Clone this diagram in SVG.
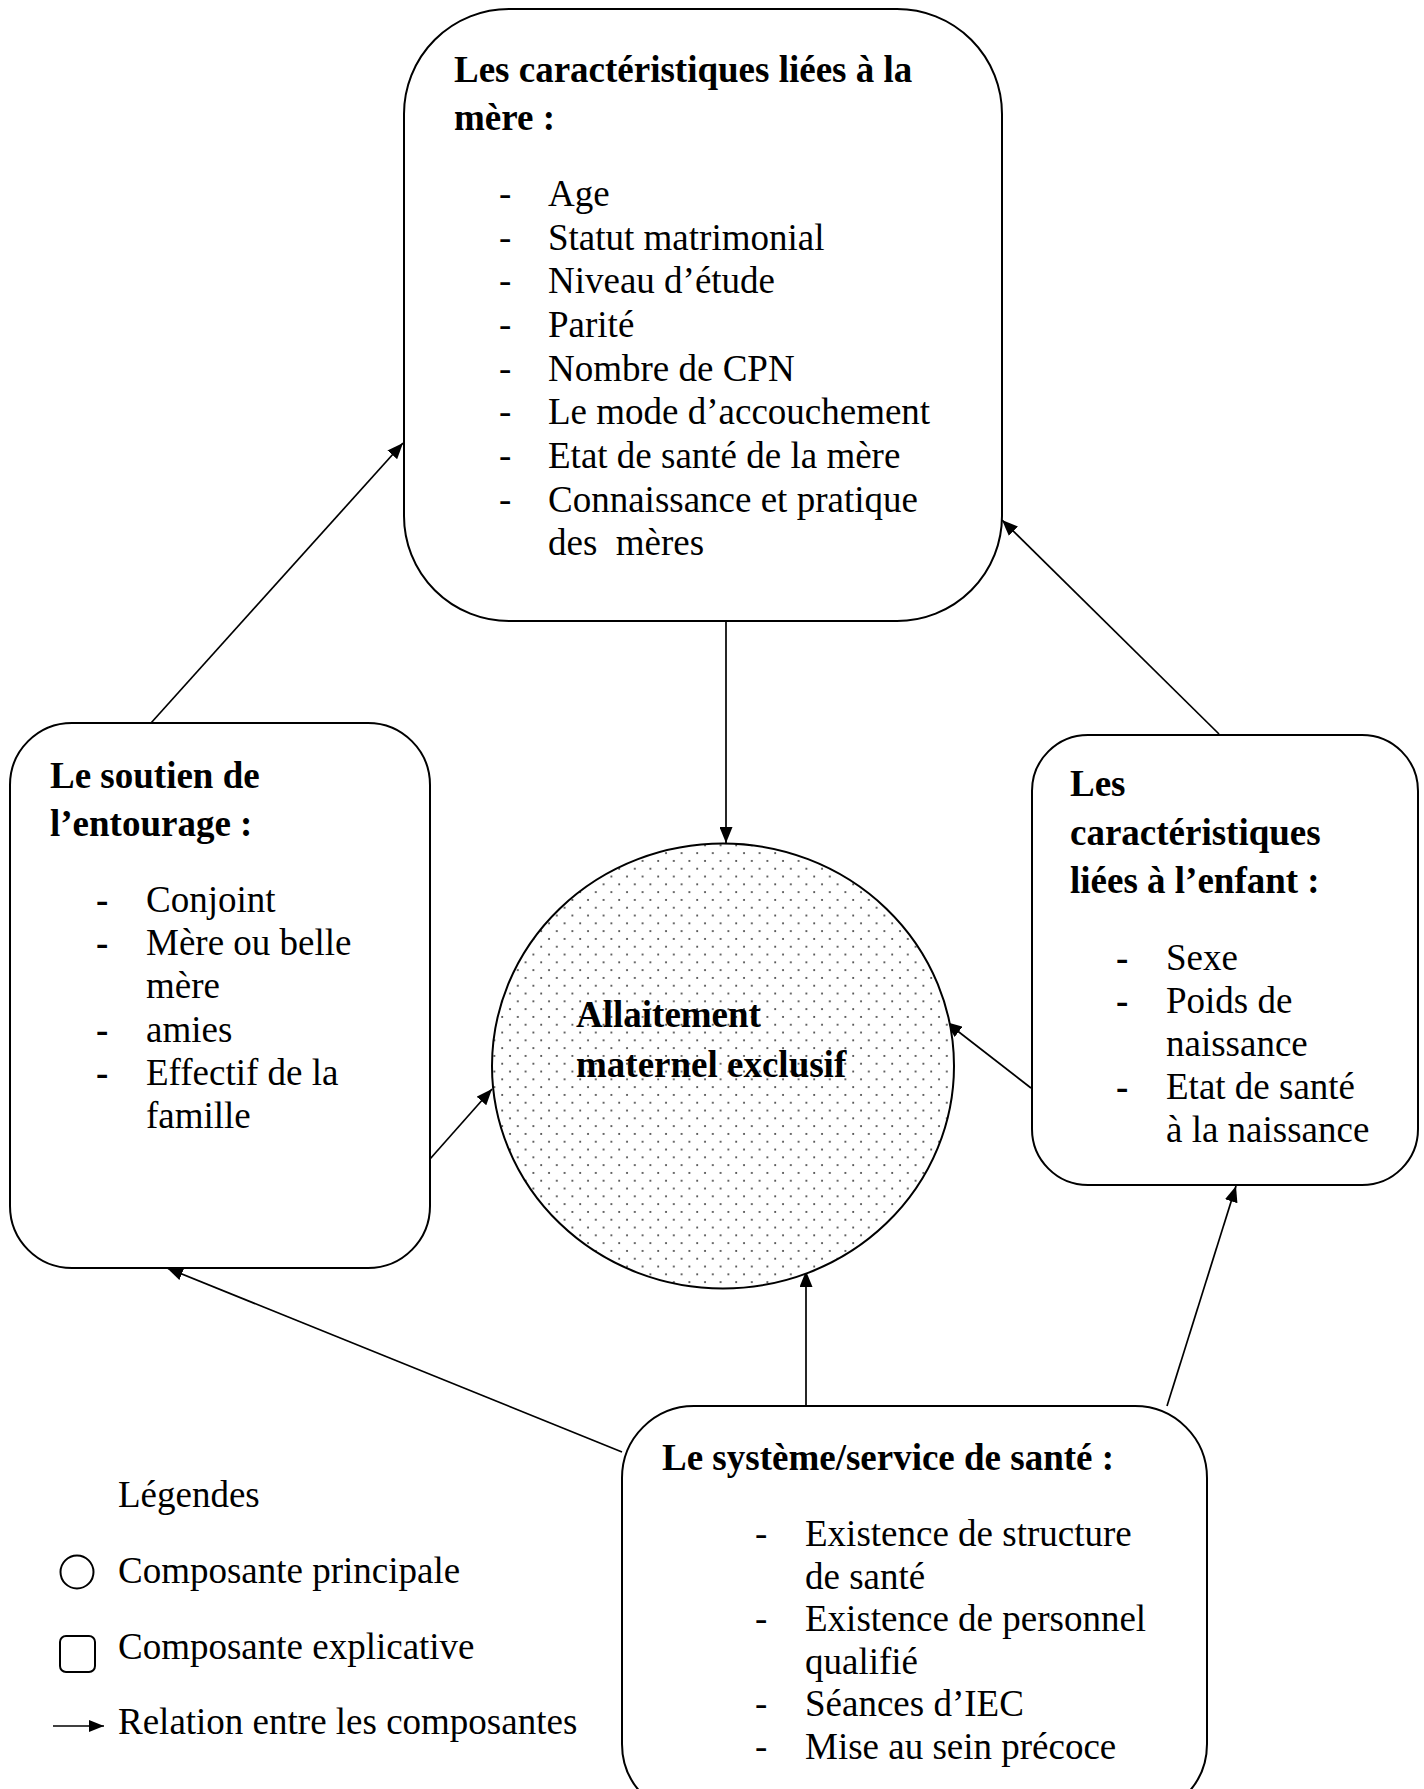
<svg xmlns="http://www.w3.org/2000/svg" width="1424" height="1789" viewBox="0 0 1424 1789">
<style>
  .box { fill: #fff; stroke: #000; stroke-width: 2; }
  .t { font-family: "Liberation Serif", "Times New Roman", serif; font-size: 37px; fill: #000; }
  .b { font-weight: bold; }
  .conn { stroke: #000; stroke-width: 1.7; fill: none; marker-end: url(#arr); }
</style>
<defs>
  <marker id="arr" markerUnits="userSpaceOnUse" markerWidth="17" markerHeight="13" refX="16" refY="6.5" orient="auto">
    <path d="M0,0 L16,6.5 L0,13 z" fill="#000"/>
  </marker>
  <pattern id="dots" patternUnits="userSpaceOnUse" width="15.6" height="15.6">
    <circle cx="3" cy="3" r="1" fill="#333"/>
    <circle cx="10.8" cy="10.8" r="1" fill="#333"/>
  </pattern>
</defs>
<rect width="1424" height="1789" fill="#fff"/>

<g id="connectors">
  <line class="conn" x1="726" y1="622" x2="726" y2="843"/>
  <line class="conn" x1="430" y1="1159" x2="492" y2="1089"/>
  <line class="conn" x1="1031" y1="1088" x2="946" y2="1022"/>
  <line class="conn" x1="806" y1="1406" x2="806" y2="1271"/>
  <line class="conn" x1="622" y1="1452" x2="167" y2="1268"/>
  <line class="conn" x1="1167" y1="1406" x2="1236" y2="1186"/>
  <line class="conn" x1="151" y1="723" x2="403" y2="443"/>
  <line class="conn" x1="1219" y1="734" x2="1002" y2="520"/>
</g>

<g id="node-mere">
  <rect class="box" x="404" y="9" width="598" height="612" rx="105" ry="105"/>
  <text class="t b" x="454" y="82">Les caractéristiques liées à la</text>
  <text class="t b" x="454" y="130">mère :</text>
  <g class="t">
    <text x="499" y="206">-</text><text x="548" y="206">Age</text>
    <text x="499" y="249.7">-</text><text x="548" y="249.7">Statut matrimonial</text>
    <text x="499" y="293.3">-</text><text x="548" y="293.3">Niveau d’étude</text>
    <text x="499" y="337">-</text><text x="548" y="337">Parité</text>
    <text x="499" y="380.6">-</text><text x="548" y="380.6">Nombre de CPN</text>
    <text x="499" y="424.3">-</text><text x="548" y="424.3">Le mode d’accouchement</text>
    <text x="499" y="468">-</text><text x="548" y="468">Etat de santé de la mère</text>
    <text x="499" y="511.6">-</text><text x="548" y="511.6">Connaissance et pratique</text>
    <text x="548" y="555.2" xml:space="preserve">des  mères</text>
  </g>
</g>

<g id="node-ame">
  <ellipse cx="723" cy="1066" rx="231" ry="222.5" fill="#fff"/>
  <ellipse cx="723" cy="1066" rx="231" ry="222.5" fill="url(#dots)" stroke="#000" stroke-width="2"/>
  <text class="t b" x="576" y="1027">Allaitement</text>
  <text class="t b" x="576" y="1077">maternel exclusif</text>
</g>

<g id="node-entourage">
  <rect class="box" x="10" y="723" width="420" height="545" rx="62" ry="62"/>
  <text class="t b" x="50" y="788">Le soutien de</text>
  <text class="t b" x="50" y="836">l’entourage :</text>
  <g class="t">
    <text class="b" x="96" y="912">-</text><text x="146" y="912">Conjoint</text>
    <text class="b" x="96" y="955.2">-</text><text x="146" y="955.2">Mère ou belle</text>
    <text x="146" y="998.4">mère</text>
    <text class="b" x="96" y="1041.6">-</text><text x="146" y="1041.6">amies</text>
    <text class="b" x="96" y="1084.8">-</text><text x="146" y="1084.8">Effectif de la</text>
    <text x="146" y="1128">famille</text>
  </g>
</g>

<g id="node-enfant">
  <rect class="box" x="1032" y="735" width="386" height="450" rx="56" ry="56"/>
  <text class="t b" x="1070" y="796">Les</text>
  <text class="t b" x="1070" y="845">caractéristiques</text>
  <text class="t b" x="1070" y="893">liées à l’enfant :</text>
  <g class="t">
    <text class="b" x="1116" y="970">-</text><text x="1166" y="970">Sexe</text>
    <text class="b" x="1116" y="1013">-</text><text x="1166" y="1013">Poids de</text>
    <text x="1166" y="1056">naissance</text>
    <text class="b" x="1116" y="1099">-</text><text x="1166" y="1099">Etat de santé</text>
    <text x="1166" y="1142">à la naissance</text>
  </g>
</g>

<g id="node-sante">
  <rect class="box" x="622" y="1406" width="585" height="410" rx="72" ry="72"/>
  <text class="t b" x="662" y="1470">Le système/service de santé :</text>
  <g class="t">
    <text x="755" y="1546">-</text><text x="805" y="1546">Existence de structure</text>
    <text x="805" y="1588.6">de santé</text>
    <text x="755" y="1631.2">-</text><text x="805" y="1631.2">Existence de personnel</text>
    <text x="805" y="1673.8">qualifié</text>
    <text x="755" y="1716.4">-</text><text x="805" y="1716.4">Séances d’IEC</text>
    <text x="755" y="1759">-</text><text x="805" y="1759">Mise au sein précoce</text>
  </g>
</g>

<g id="legend">
  <text class="t" x="118" y="1507">Légendes</text>
  <circle cx="77" cy="1572" r="16.5" fill="#fff" stroke="#000" stroke-width="2"/>
  <text class="t" x="118" y="1583">Composante principale</text>
  <rect x="60" y="1636" width="35" height="36" rx="6" ry="6" fill="#fff" stroke="#000" stroke-width="2"/>
  <text class="t" x="118" y="1659">Composante explicative</text>
  <line x1="53" y1="1726" x2="104" y2="1726" stroke="#000" stroke-width="1.7"/>
  <path d="M89,1720 L104,1726 L89,1732 z" fill="#000"/>
  <text class="t" x="118" y="1734">Relation entre les composantes</text>
</g>
</svg>
